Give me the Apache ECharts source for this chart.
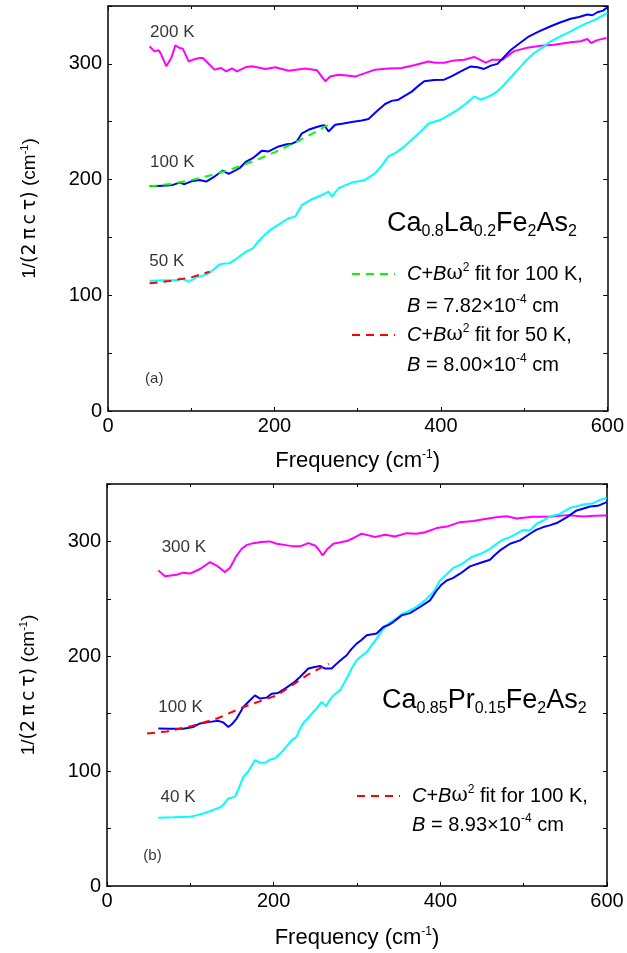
<!DOCTYPE html>
<html>
<head>
<meta charset="utf-8">
<script src="https://cdn.jsdelivr.net/npm/echarts@6/dist/echarts.min.js"></script>
<style>
html,body{margin:0;padding:0;background:#fff;}
#chart{width:627px;height:953px;}
</style>
</head>
<body>
<div id="chart"></div>
<script>
// ---------- DATA ----------
const xTicks = [0, 200, 400, 600];
const yTicks = [0, 100, 200, 300];

// Panel (a): Ca0.8La0.2Fe2As2
const a_T200 = [[50,315],[56,310.8],[61,311.7],[64,308],[70,298],[76,305],[81,316],[86,313.7],[90,313],[97,302],[102,303.6],[110,305],[114,305],[128,295],[136,296.4],[142,293.5],[149,296],[155,293.5],[165,297],[173,298],[189.5,295.6],[201,297],[217,294],[237,296],[251,294.5],[261,285],[267,289],[277,290.6],[287,290],[297,289],[309,292],[321,295],[337,296],[353,296.4],[369,299],[385,302],[393,301],[404,301],[416,303],[428,303.6],[440,306],[454,301],[462,303.6],[474,303.6],[488,311],[504,314],[520,315.7],[536,316.5],[556,318.6],[568,319.5],[576,321.5],[580.5,318],[588,320.5],[599,322.4]];
const a_T100 = [[50,194.5],[60,194.5],[70,194.8],[78,195.4],[86,197.4],[92,196],[100,198.5],[110,199.7],[118,198.3],[128,202.6],[138,207.8],[145,205],[152,207.5],[158,209.8],[166,215.6],[175,219],[185,225],[193,224.3],[205,228.6],[215,230.5],[221,231],[227,233],[233,240],[241,243],[249,245],[256,246.5],[260,247],[265,241.6],[273,247.4],[283,248.5],[293,249.7],[305,251],[313,252.3],[323,259],[333,265.3],[341,268],[349,269],[357,272.5],[365,276],[373,281],[380,285],[392,286],[404,286.3],[412,289],[420,292],[428,295],[436,297.8],[444,297],[452,295.6],[460,298.5],[468,300],[476,306],[484,312],[495,318],[506,323.8],[518,328],[532,332.5],[544,336],[556,339],[566,340.5],[576,342.6],[582,342],[588,344.6],[595,346],[600,349]];
const a_T50 = [[50,112.6],[60,112.8],[70,113],[82,113],[86,114.7],[92,113.5],[97,111.7],[106,115.5],[114,117],[122,119.5],[128,123],[134,126.7],[140,127.5],[146,127.6],[155,132],[166,137.7],[174,140.6],[180,146],[188,152],[195,156.5],[205,161],[217,166.6],[225,168],[233,178],[240,181],[245,183],[255,186],[265,189.6],[269,185.3],[277,192.5],[285,195],[293,197.4],[301,198.5],[309,199.7],[321,205.5],[329,212],[337,220],[345,222.8],[355,228],[365,234.4],[375,241],[385,248.2],[392,250],[400,251.7],[410,256],[420,260.3],[430,265.5],[440,271.9],[448,269],[455,271],[462,273.3],[469,277],[476,282],[486,290],[496,297.8],[504,304],[512,309.4],[522,314],[532,319.5],[544,324],[556,328],[566,332],[576,335.4],[588,339],[600,344]];
const a_fit100 = [[50,194],[75,196.2],[100,199.5],[125,204],[150,209.5],[175,216],[200,223.5],[225,232],[250,241.5],[270,249.5]];
const a_fit50 = [[50,110.3],[74,112.3],[100,115.5],[122,120.3]];

// Panel (b): Ca0.85Pr0.15Fe2As2
const b_T300 = [[61.6,274.8],[69.6,269.6],[83.6,271],[91.6,272.8],[99.6,272],[111.6,276],[123.6,282],[131.6,279],[141.6,273.3],[147.6,277],[155,287],[161.6,293.6],[168,297],[175.6,298.5],[185,299.5],[195.6,300],[203.6,298],[213,297],[223.6,295.7],[231.6,295.7],[241.6,298.5],[249.6,296.5],[254,293],[258.8,287.8],[264,293],[271.6,298],[279,299],[287.6,300.3],[296,303],[305.6,306.7],[313,305.5],[321.6,303.8],[333.6,305.8],[345.6,304.3],[359.6,307.2],[371.6,306.7],[381.6,308],[395.6,311.6],[409.6,313.3],[423.6,316.8],[439.6,317.7],[455.6,319.7],[467,321],[479.6,322],[491.6,320],[511.6,321.5],[531.6,321.5],[551.6,322.9],[571.6,321.8],[585,322.3],[599.6,322.6]];
const b_T100 = [[61.6,137.1],[75,137],[91.6,137],[103.6,138.5],[111.6,141.5],[123.6,142.9],[133.6,143.8],[139.6,142.4],[145.6,138.5],[150,141],[155.6,145.8],[163.6,155.9],[171.6,161.7],[177.6,166],[183.6,163.2],[191.6,164],[197.6,167.4],[205,168],[213.6,171.9],[223.6,176.8],[231.6,182],[241.6,189.3],[248,190.5],[255.6,191.6],[261.6,189.3],[269.6,189.3],[275.6,193.6],[281,197],[287.6,200.9],[293,206],[299.6,211],[305,214],[311.6,218.3],[317,219],[323.6,219.8],[331.6,225.5],[337,227],[343.6,229.8],[353.6,235.6],[363.6,237.6],[375.6,242.9],[387.6,248.7],[395.6,257.4],[401,262],[407.6,266],[415,268],[423.6,271.9],[435.6,278.3],[447.6,281.2],[459.6,284],[465,288],[471.6,292.2],[483.6,298],[495.6,300.9],[507.6,306.7],[515,310],[523.6,312.5],[531,314],[539.6,316],[551.6,321],[563.6,327],[571,328.5],[579.6,330.4],[589,331],[599.6,334.2]];
const b_T40 = [[61.6,59.4],[80,59.8],[99.6,60.3],[107,61.5],[115.6,63.2],[125,65.5],[135.6,68.4],[140,71],[145.6,76.2],[153.6,77.6],[158,85],[163.6,95],[169.6,99.9],[173,104],[177.6,109.6],[183.6,107.3],[189.6,107.3],[195.6,110.1],[201.6,111],[206,114],[211.6,118.3],[216,122],[221.6,127],[227.6,129.9],[231,136],[235.6,142],[241,146],[247.6,151.6],[252,155],[257.6,160.3],[262.8,156.5],[267.6,162.3],[272,166],[279.6,170.4],[284,176],[289.6,183.5],[294,190],[299.6,196.5],[305,200],[311.6,203.7],[317,209],[323.6,215.4],[331.6,224],[337,228],[343.6,231.3],[349,234],[355.6,237.6],[361,239],[367.6,241.4],[375,245],[381.6,248.7],[391.6,256],[399.6,266],[407,271],[415.6,277],[425,280],[437.6,286.4],[447.6,289],[453,291],[459.6,293.6],[466,297],[473.6,301],[483.6,303.8],[491,306.5],[499.6,310],[507.6,309.6],[515.6,315.4],[523,318],[531.6,321.7],[543.6,324],[555.6,329.3],[563,330.5],[571.6,332.2],[583.6,333.3],[591,336],[599.6,338]];
const b_fit100 = [[48,132.8],[72,134.6],[100,139],[132,145.8],[164,155.9],[204,166],[240,183.5],[266,193.6]];

// Text annotations (label text, anchor x, anchor y in data units)
const a_labels = [['200 K',50,327],['100 K',50,215],['50 K',49,129.6],['(a)',44,28]];
const b_labels = [['300 K',65,294.8],['100 K',61,155.6],['40 K',63.6,77.4],['(b)',43,26]];

// ---------- CHART ----------
const FONT = '"Liberation Sans", Arial, sans-serif';
const chart = echarts.init(document.getElementById('chart'), null, {renderer:'canvas'});

const AXIS_LINE = {show:true, onZero:false, lineStyle:{color:'#000', width:1.5}};

function xPair(g, gap) {
  const base = {
    type:'value', gridIndex:g, min:0, max:600, interval:200,
    axisLine:AXIS_LINE,
    axisTick:{show:true, inside:true, length:4, lineStyle:{color:'#000', width:1}},
    minorTick:{show:true, splitNumber:2, length:3, lineStyle:{color:'#000', width:1}},
    splitLine:{show:false}, minorSplitLine:{show:false}
  };
  return [
    Object.assign({}, base, {
      position:'bottom',
      axisLabel:{show:true, color:'#000', fontSize:20, fontFamily:FONT, margin:5,
        formatter: v => xTicks.includes(v) ? String(v) : ''},
      name:'{n|Frequency (cm}{sup|-1}{n|)}', nameLocation:'middle', nameGap:gap,
      nameTextStyle:{fontSize:22, fontFamily:FONT, color:'#000',
        rich:{n:{fontSize:22, fontFamily:FONT, color:'#000', lineHeight:24},
              sup:{fontSize:12, fontFamily:FONT, color:'#000', verticalAlign:'top', lineHeight:12}}}
    }),
    Object.assign({}, base, {position:'top', axisLabel:{show:false}})
  ];
}
function yPair(g) {
  const base = {
    type:'value', gridIndex:g, min:0, max:350, interval:50,
    axisLine:AXIS_LINE,
    axisTick:{show:true, inside:true, length:4, lineStyle:{color:'#000', width:1}},
    splitLine:{show:false}
  };
  return [
    Object.assign({}, base, {
      position:'left',
      axisLabel:{show:true, color:'#000', fontSize:20, fontFamily:FONT, margin:6,
        formatter: v => yTicks.includes(v) ? String(v) : ''},
      name:'{n|1/}{g|(2\u2009π\u2009c\u2009τ)}{n| (cm}{sup|-1}{n|)}', nameLocation:'middle', nameGap:67, nameRotate:90,
      nameTextStyle:{fontSize:19, fontFamily:FONT, color:'#000',
        rich:{n:{fontSize:19, fontFamily:FONT, color:'#000', lineHeight:22},
              g:{fontSize:19, fontFamily:'"DejaVu Sans", sans-serif', color:'#000', lineHeight:22},
              sup:{fontSize:11, fontFamily:FONT, color:'#000', verticalAlign:'top', lineHeight:11}}}
    }),
    Object.assign({}, base, {position:'right', axisLabel:{show:false}})
  ];
}

function line(data, color, xi, yi, dashed, z) {
  return {
    type:'line', data, xAxisIndex:xi, yAxisIndex:yi, symbol:'none', smooth:false,
    lineStyle:{color, width:2, type: dashed ? [8,6] : 'solid'},
    itemStyle:{color}, z: z || 2, animation:false, silent:true
  };
}
function labels(list, xi, yi) {
  return list.map(([t, x, y]) => ({
    type:'scatter', xAxisIndex:xi, yAxisIndex:yi, data:[[x,y]], symbolSize:1,
    itemStyle:{color:'rgba(0,0,0,0)'}, silent:true, animation:false,
    label:{show:true, position:'right', distance:0, formatter:t, color:'#000',
      fontSize: t.startsWith('(') ? 15 : 17, fontFamily:FONT}
  }));
}

const richLegend = {
  i:{fontSize:20, fontFamily:FONT, fontStyle:'italic', color:'#000', lineHeight:24},
  r:{fontSize:20, fontFamily:FONT, color:'#000', lineHeight:24},
  w:{fontSize:20, fontFamily:'"DejaVu Serif", serif', color:'#000', lineHeight:24},
  sup:{fontSize:12, fontFamily:FONT, color:'#000', verticalAlign:'top', lineHeight:12}
};
const richTitle = {
  b:{fontSize:27, fontFamily:FONT, color:'#000', lineHeight:32},
  s:{fontSize:16, fontFamily:FONT, color:'#000', verticalAlign:'bottom', lineHeight:6}
};
function txt(x, y, text, rich) {
  return {type:'text', x, y, silent:true, style:{text, rich, align:'left', verticalAlign:'middle', fill:'#000', font:'20px ' + FONT}};
}
function dash(x1, x2, y, color) {
  return {type:'line', silent:true, shape:{x1, y1:y, x2, y2:y}, style:{stroke:color, lineWidth:2, lineDash:[8,6]}};
}

const option = {
  backgroundColor:'#fff',
  animation:false,
  grid:[
    {left:108, top:6, right:17, bottom:542},
    {left:107, top:484, right:20, bottom:67}
  ],
  xAxis:[...xPair(0, 38), ...xPair(1, 40)],
  yAxis:[...yPair(0), ...yPair(1)],
  series:[
    line(a_T200, '#ff00ff', 0, 0),
    line(a_T50, '#00ffff', 0, 0),
    line(a_T100, '#0000ff', 0, 0),
    line(a_fit100, '#00ff00', 0, 0, true, 3),
    line(a_fit50, '#ff0000', 0, 0, true, 3),
    line(b_T300, '#ff00ff', 2, 2),
    line(b_T40, '#00ffff', 2, 2),
    line(b_T100, '#0000ff', 2, 2),
    line(b_fit100, '#ff0000', 2, 2, true, 3),
    ...labels(a_labels, 0, 0),
    ...labels(b_labels, 2, 2)
  ],
  graphic:[
    txt(387, 224, '{b|Ca}{s|0.8}{b|La}{s|0.2}{b|Fe}{s|2}{b|As}{s|2}', richTitle),
    dash(352, 395, 274, '#00ff00'),
    txt(407, 274, '{i|C}{r|+}{i|B}{w|ω}{sup|2}{r| fit for 100 K,}', richLegend),
    txt(407, 306, '{i|B}{r| = 7.82×10}{sup|-4}{r| cm}', richLegend),
    dash(352, 395, 335, '#ff0000'),
    txt(407, 335, '{i|C}{r|+}{i|B}{w|ω}{sup|2}{r| fit for 50 K,}', richLegend),
    txt(407, 365, '{i|B}{r| = 8.00×10}{sup|-4}{r| cm}', richLegend),
    txt(382, 701, '{b|Ca}{s|0.85}{b|Pr}{s|0.15}{b|Fe}{s|2}{b|As}{s|2}', richTitle),
    dash(357, 400, 796, '#ff0000'),
    txt(412, 796, '{i|C}{r|+}{i|B}{w|ω}{sup|2}{r| fit for 100 K,}', richLegend),
    txt(412, 825, '{i|B}{r| = 8.93×10}{sup|-4}{r| cm}', richLegend)
  ]
};
chart.setOption(option);
</script>
</body>
</html>
